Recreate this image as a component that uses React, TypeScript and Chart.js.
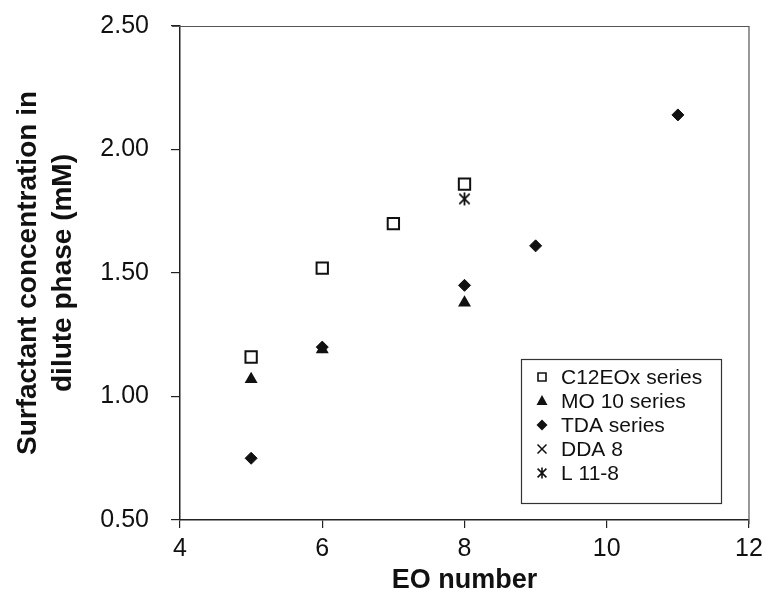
import React, { useEffect, useRef } from "react";
import { Chart, registerables } from "chart.js";

Chart.register(...registerables);

// ---- data ----
const xTickValues = [4, 6, 8, 10, 12];
const yTickValues = [0.5, 1.0, 1.5, 2.0, 2.5];

const seriesLabels = ["C12EOx series", "MO 10 series", "TDA series", "DDA 8", "L 11-8"];

const c12X = [5, 6, 7, 8];
const c12Y = [1.16, 1.52, 1.70, 1.86];

const mo10X = [5, 6, 8];
const mo10Y = [1.07, 1.19, 1.38];

const tdaX = [5, 6, 8, 9, 11];
const tdaY = [0.75, 1.20, 1.45, 1.61, 2.14];

const ddaX = [8];
const ddaY = [1.86];

const l118X = [8];
const l118Y = [1.80];

const xTitle = "EO number";
const yTitle = ["Surfactant concentration in", "dilute phase (mM)"];

const FONT = "'Liberation Sans', Arial, sans-serif";
const INK = "#111";

function pts(xs: number[], ys: number[]) {
  return xs.map((x, i) => ({ x, y: ys[i] }));
}

function drawAsterisk(ctx: CanvasRenderingContext2D, cx: number, cy: number, r: number, lw: number) {
  ctx.save();
  ctx.strokeStyle = INK;
  ctx.lineWidth = lw;
  ctx.lineCap = "butt";
  const d = r * 0.8;
  ctx.beginPath();
  ctx.moveTo(cx - d, cy - d);
  ctx.lineTo(cx + d, cy + d);
  ctx.moveTo(cx + d, cy - d);
  ctx.lineTo(cx - d, cy + d);
  ctx.moveTo(cx, cy - r);
  ctx.lineTo(cx, cy + r);
  ctx.stroke();
  ctx.restore();
}

function makeAsteriskCanvas(size: number, lw: number) {
  const c = document.createElement("canvas");
  c.width = size;
  c.height = size;
  const ctx = c.getContext("2d")!;
  drawAsterisk(ctx, size / 2, size / 2, size / 2 - 1, lw);
  return c;
}

function drawLegendMarker(ctx: CanvasRenderingContext2D, i: number, cx: number, cy: number) {
  ctx.save();
  ctx.fillStyle = INK;
  ctx.strokeStyle = INK;
  if (i === 0) {
    ctx.lineWidth = 1.6;
    ctx.fillStyle = "#fff";
    ctx.beginPath();
    ctx.rect(cx - 4, cy - 4, 8, 8);
    ctx.fill();
    ctx.stroke();
  } else if (i === 1) {
    ctx.beginPath();
    ctx.moveTo(cx, cy - 6);
    ctx.lineTo(cx + 5.5, cy + 4);
    ctx.lineTo(cx - 5.5, cy + 4);
    ctx.closePath();
    ctx.fill();
  } else if (i === 2) {
    ctx.beginPath();
    ctx.moveTo(cx, cy - 5.5);
    ctx.lineTo(cx + 5.5, cy);
    ctx.lineTo(cx, cy + 5.5);
    ctx.lineTo(cx - 5.5, cy);
    ctx.closePath();
    ctx.fill();
  } else if (i === 3) {
    ctx.lineWidth = 1.5;
    ctx.beginPath();
    ctx.moveTo(cx - 4.5, cy - 4.5);
    ctx.lineTo(cx + 4.5, cy + 4.5);
    ctx.moveTo(cx + 4.5, cy - 4.5);
    ctx.lineTo(cx - 4.5, cy + 4.5);
    ctx.stroke();
  } else {
    drawAsterisk(ctx, cx, cy, 5.5, 1.6);
  }
  ctx.restore();
}

const framePlugin = {
  id: "frameAndLegend",
  afterDraw(chart: any) {
    const { ctx, chartArea } = chart;
    const { left, right, top, bottom } = chartArea;
    ctx.save();
    // top and right frame
    ctx.strokeStyle = "#555";
    ctx.lineWidth = 1.2;
    ctx.beginPath();
    ctx.moveTo(left - 8, top + 0.5);
    ctx.lineTo(right, top + 0.5);
    ctx.lineTo(right, bottom + 4);
    ctx.stroke();

    // legend box
    const bx = right - 228;
    const by = bottom - 161;
    const bw = 200;
    const bh = 144;
    ctx.fillStyle = "#fff";
    ctx.fillRect(bx, by, bw, bh);
    ctx.strokeStyle = "#333";
    ctx.lineWidth = 1.2;
    ctx.strokeRect(bx + 0.5, by + 0.5, bw, bh);

    ctx.font = `21px ${FONT}`;
    ctx.textBaseline = "middle";
    ctx.textAlign = "left";
    seriesLabels.forEach((lab, i) => {
      const cy = by + 18 + i * 24;
      drawLegendMarker(ctx, i, bx + 21, cy);
      ctx.fillStyle = INK;
      ctx.fillText(lab, bx + 40, cy + 1);
    });
    ctx.restore();
  },
};

export default function App() {
  const ref = useRef<HTMLCanvasElement | null>(null);

  useEffect(() => {
    document.body.style.margin = "0";
    const canvas = ref.current!;
    const asterisk = makeAsteriskCanvas(15, 1.8);

    const chart = new Chart(canvas, {
      type: "scatter",
      data: {
        datasets: [
          {
            label: seriesLabels[0],
            data: pts(c12X, c12Y),
            pointStyle: "rect",
            pointRadius: 8,
            pointBorderWidth: 2,
            pointBackgroundColor: "#fff",
            pointBorderColor: INK,
          },
          {
            label: seriesLabels[1],
            data: pts(mo10X, mo10Y),
            pointStyle: "triangle",
            pointRadius: 7.5,
            pointBorderWidth: 0,
            pointBackgroundColor: INK,
            pointBorderColor: INK,
          },
          {
            label: seriesLabels[2],
            data: pts(tdaX, tdaY),
            pointStyle: "rectRot",
            pointRadius: 6,
            pointBorderWidth: 1,
            pointBackgroundColor: INK,
            pointBorderColor: INK,
          },
          {
            label: seriesLabels[3],
            data: pts(ddaX, ddaY),
            pointStyle: "crossRot",
            pointRadius: 6,
            pointBorderWidth: 1.5,
            pointBackgroundColor: INK,
            pointBorderColor: INK,
          },
          {
            label: seriesLabels[4],
            data: pts(l118X, l118Y),
            pointStyle: asterisk as any,
            pointRadius: 7,
            pointBorderWidth: 0,
            pointBackgroundColor: INK,
            pointBorderColor: INK,
          },
        ],
      },
      options: {
        responsive: false,
        animation: false,
        events: [],
        layout: { padding: { top: 26, right: 19, left: 0, bottom: 0 } },
        plugins: {
          legend: { display: false },
          tooltip: { enabled: false },
        },
        scales: {
          x: {
            type: "linear",
            min: 4,
            max: 12,
            afterBuildTicks: (s: any) => {
              s.ticks = xTickValues.map((v) => ({ value: v }));
            },
            afterFit: (s: any) => {
              s.height = 93;
              s.paddingLeft = 0;
              s.paddingRight = 0;
            },
            grid: {
              display: true,
              drawOnChartArea: false,
              drawTicks: true,
              tickLength: 8,
              color: "#222",
              lineWidth: 1.2,
            },
            border: { display: true, color: "#222", width: 1.5 },
            ticks: {
              color: INK,
              padding: 6,
              maxRotation: 0,
              font: { family: FONT, size: 25 },
              callback: (v: any) => String(v),
            },
            title: {
              display: true,
              text: xTitle,
              color: INK,
              font: { family: FONT, size: 27, weight: "bold", lineHeight: 1 },
              padding: { top: 0, bottom: 19 },
            },
          },
          y: {
            type: "linear",
            min: 0.5,
            max: 2.5,
            afterBuildTicks: (s: any) => {
              s.ticks = yTickValues.map((v) => ({ value: v }));
            },
            afterFit: (s: any) => {
              s.width = 180;
              s.paddingTop = 0;
              s.paddingBottom = 0;
            },
            grid: {
              display: true,
              drawOnChartArea: false,
              drawTicks: true,
              tickLength: 9,
              color: "#222",
              lineWidth: 1.2,
            },
            border: { display: true, color: "#222", width: 1.5 },
            ticks: {
              color: INK,
              padding: 22,
              font: { family: FONT, size: 25 },
              callback: (v: any) => Number(v).toFixed(2),
            },
            title: {
              display: true,
              text: yTitle,
              color: INK,
              font: { family: FONT, size: 28, weight: "bold", lineHeight: 1.25 },
              padding: { top: 11, bottom: 0 },
            },
          },
        },
      },
      plugins: [framePlugin],
    });

    return () => chart.destroy();
  }, []);

  return (
    <div style={{ position: "absolute", left: 0, top: 0, width: 768, height: 613, background: "#fff" }}>
      <canvas ref={ref} width={768} height={613} />
    </div>
  );
}
